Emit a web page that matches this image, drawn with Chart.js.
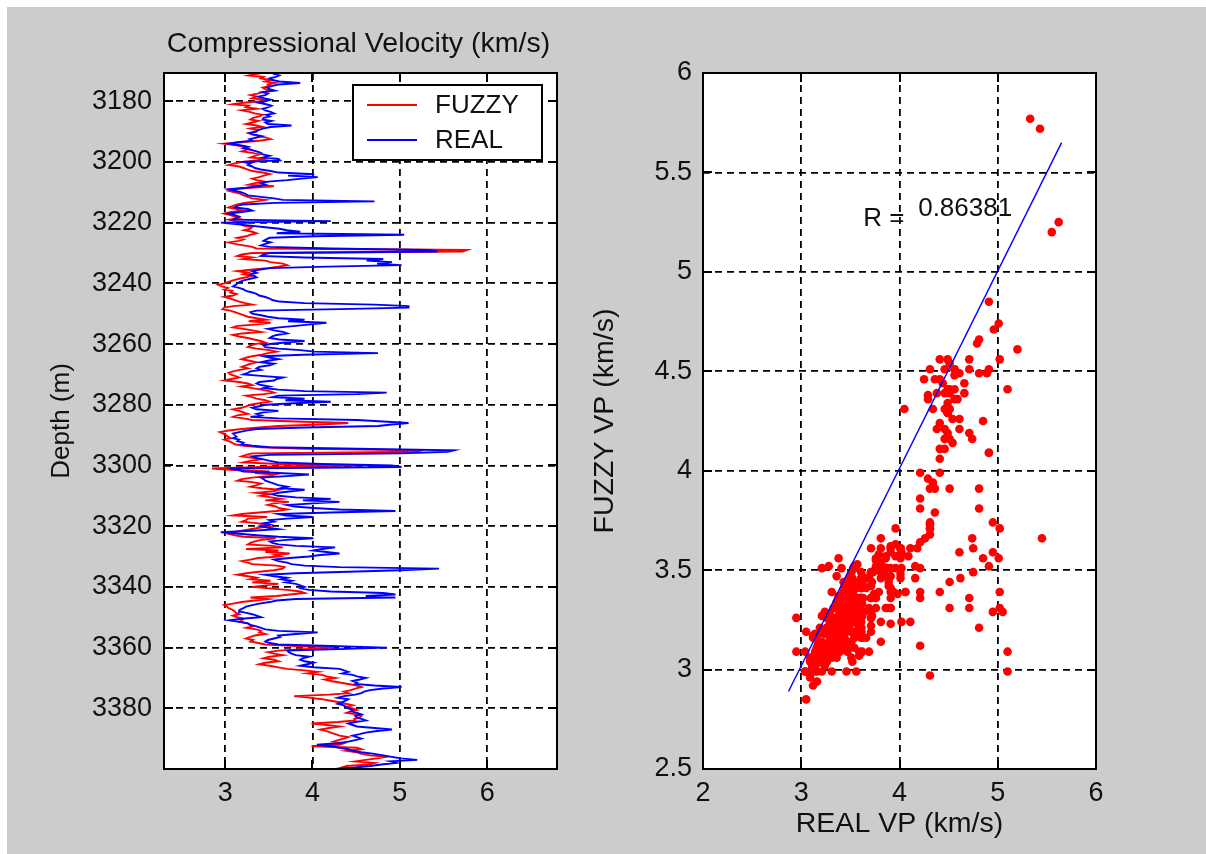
<!DOCTYPE html>
<html><head><meta charset="utf-8">
<script src="https://cdn.jsdelivr.net/npm/chart.js@4.4.0/dist/chart.umd.min.js"></script>
<style>
html,body{margin:0;padding:0;background:#fff;width:1206px;height:854px;overflow:hidden;}
#bg{position:absolute;left:7px;top:7px;width:1199px;height:847px;background:#cccccc;}
#cL{position:absolute;left:0;top:0;}
#cR{position:absolute;left:560px;top:0;}
</style></head><body>
<div id="bg"></div>
<canvas id="cL" width="603" height="854"></canvas>
<canvas id="cR" width="646" height="854"></canvas>
<script>
// ---------------- data ----------------
const depthStart = 3170.5;   // m, first sample
const depthStep = 0.5;       // m between samples
const fuzzyVp = [3.31,
3.36,3.27,3.44,3.41,3.52,3.46,3.57,3.49,3.51,3.43,3.46,3.53,3.44,3.37,3.29,3.36,3.31,3.46,
3.41,3.21,3.09,3.27,3.24,3.36,3.19,3.28,3.34,3.43,3.39,3.32,3.29,3.38,3.31,3.24,3.36,3.43,3.29,3.37,
3.34,3.27,3.31,3.38,3.47,3.52,3.39,3.18,2.99,3.13,3.21,3.27,3.24,3.19,3.31,3.39,3.34,3.29,3.46,3.36,
3.19,3.11,3.04,3.16,3.21,3.26,3.31,3.43,3.51,3.44,3.39,3.31,3.36,3.46,3.34,3.27,3.56,3.29,3.09,3.04,
3.11,3.18,3.21,3.26,3.31,3.46,3.36,3.22,3.14,3.09,3.04,3.13,3.21,3.07,2.99,3.06,3.11,3.16,3.04,3.12,
3.26,3.17,3.21,3.31,3.29,3.22,3.31,3.36,3.29,3.24,3.14,3.21,3.16,3.04,3.11,3.21,3.31,3.36,5.77,5.72,
3.31,3.19,3.14,3.31,3.21,3.46,3.52,3.66,3.71,3.61,3.49,3.29,3.14,3.26,3.21,3.31,3.24,3.16,3.09,3.04,
2.99,2.92,2.96,3.03,2.99,3.08,3.06,3.13,3.09,2.99,3.06,3.11,3.16,3.23,3.31,3.09,2.99,2.97,3.06,3.11,
3.16,3.21,3.26,3.36,3.47,3.27,3.52,3.38,3.14,3.09,3.21,3.31,3.41,3.19,3.09,3.16,3.26,3.33,3.41,3.46,
3.34,3.29,3.26,3.36,3.51,3.59,3.49,3.42,3.31,3.24,3.19,3.28,3.36,3.29,3.24,3.19,3.26,3.17,3.09,3.04,
3.06,3.11,3.16,3.07,2.99,3.16,3.26,3.31,3.19,3.31,3.41,3.51,3.56,3.44,3.24,3.31,3.36,3.46,3.51,3.39,
3.29,3.24,3.19,3.09,3.16,3.21,3.26,3.14,3.09,3.21,3.31,3.81,4.41,4.09,3.61,3.39,3.19,3.04,2.94,2.98,
3.01,3.03,3.06,2.99,3.04,3.08,3.11,3.21,3.41,3.91,5.25,5.2,3.31,3.24,3.19,3.31,3.41,3.29,3.21,3.61,
4.51,3.39,2.85,3.11,3.51,3.34,3.57,3.49,3.31,3.19,3.14,3.31,3.41,3.36,3.29,3.42,3.62,3.55,3.36,3.51,
3.41,3.53,3.64,3.46,3.73,3.56,3.49,3.58,3.61,3.71,3.59,3.39,3.19,3.09,3.48,3.26,3.24,3.19,3.36,3.46,
3.51,3.39,3.29,3.19,3.09,3.04,3.11,3.21,3.58,3.42,3.34,3.29,3.26,3.54,3.66,3.24,3.61,3.46,3.74,3.57,
3.63,3.38,3.29,3.19,3.26,3.31,3.59,3.68,3.66,3.56,3.39,3.24,3.14,3.26,3.36,3.29,3.52,3.31,3.61,3.47,
3.31,3.51,3.71,3.86,3.91,3.74,3.59,3.29,3.49,3.34,3.19,3.09,2.99,3.02,3.04,3.08,3.11,3.12,3.16,3.09,
3.14,3.21,3.19,3.17,3.26,3.28,3.31,3.24,3.36,3.41,3.39,3.46,3.34,3.29,3.24,3.32,3.29,3.38,3.46,3.81,
4.25,3.91,3.61,3.49,3.56,3.66,3.51,3.44,3.56,3.61,3.46,3.39,3.51,3.61,3.71,3.91,4.06,3.94,4.11,4.16,
4.26,4.14,4.21,4.31,4.41,4.51,4.56,4.49,4.44,4.36,4.41,4.19,3.79,3.96,4.11,4.21,4.31,4.38,4.46,4.39,
4.46,4.51,4.44,4.39,4.51,4.56,4.54,4.48,4.49,4.29,3.99,4.16,4.31,4.19,4.09,4.16,4.21,4.26,4.31,4.41,
4.36,4.29,4.24,4.36,4.31,3.99,4.51,4.56,4.39,4.51,4.56,4.66,4.85,4.74,4.61,4.49,4.71,4.64,4.39,4.34,
4.46];
const realVp = [3.52,
3.56,3.62,3.58,3.51,3.54,3.62,3.86,3.61,3.53,3.48,3.51,3.57,3.43,3.49,3.46,3.38,3.44,3.52,
3.46,3.38,3.47,3.53,3.49,3.43,3.46,3.52,3.56,3.47,3.51,3.44,3.43,3.53,3.46,3.49,3.76,3.52,3.43,3.38,
3.36,3.28,3.34,3.42,3.36,3.28,3.31,3.14,3.04,3.17,3.26,3.21,3.29,3.36,3.41,3.43,3.51,3.44,3.61,3.63,
3.21,3.29,3.26,3.31,3.34,3.41,3.52,3.61,4.02,3.72,4.06,3.88,3.71,3.49,3.41,3.46,3.38,3.24,3.04,3.11,
3.19,3.23,3.26,3.41,3.56,3.66,4.71,3.58,3.21,3.14,3.11,3.26,3.31,3.19,3.04,3.11,3.16,3.12,3.09,4.21,
2.95,3.12,3.29,3.46,3.62,3.71,3.86,3.59,5.05,4.02,3.51,3.47,3.44,3.52,3.46,3.41,3.51,4.21,5.33,5.43,
3.51,3.44,3.41,3.91,4.81,4.62,4.91,4.74,5.02,4.18,3.51,3.39,3.31,3.36,3.29,3.33,3.36,3.29,3.21,3.17,
3.14,3.12,3.09,3.16,3.21,3.24,3.31,3.36,3.39,3.46,3.51,3.54,3.62,3.91,4.71,5.1,5.1,4.31,3.36,3.29,
3.31,3.41,3.49,3.61,3.91,3.72,4.16,3.98,3.81,3.62,3.49,3.56,3.66,3.71,3.59,3.54,3.51,3.62,3.91,3.69,
3.51,3.44,3.46,3.61,3.86,4.02,4.75,3.89,3.44,3.52,3.61,3.49,3.41,3.56,3.51,3.39,3.36,3.41,3.29,3.26,
3.21,3.41,3.66,3.59,3.56,3.39,3.36,3.41,3.51,3.44,3.61,3.91,4.85,4.51,3.61,3.54,3.91,3.69,4.21,3.79,
3.46,3.39,3.31,3.36,3.61,3.44,3.36,3.41,3.29,3.61,4.51,4.81,5.1,4.91,4.75,3.91,3.36,3.24,3.16,3.09,
3.11,3.13,3.09,3.16,3.14,3.21,3.19,3.31,3.51,4.51,5.62,5.55,5.02,3.51,3.31,3.36,3.44,3.51,3.61,4.11,
4.91,5.02,3.05,3.16,3.21,3.61,3.96,3.71,3.41,3.44,3.46,3.51,3.56,3.61,3.71,3.64,3.91,3.76,3.61,3.54,
3.61,3.81,4.21,3.89,4.31,4.01,3.71,3.79,4.01,4.31,4.95,4.21,3.61,3.69,4.01,3.71,3.51,3.56,3.44,3.51,
3.41,3.49,3.61,3.31,2.95,3.16,3.36,3.61,4.01,3.71,3.51,3.54,3.61,3.81,4.26,4.11,4.01,4.16,4.31,4.09,
3.96,3.74,3.56,3.61,3.71,3.76,3.91,4.31,5.45,5.01,4.41,3.81,3.46,3.56,3.71,3.64,3.76,3.69,3.81,3.86,
3.91,3.87,3.96,4.21,4.81,4.95,4.61,4.95,3.81,3.59,3.51,3.39,3.31,3.24,3.21,3.17,3.16,3.23,3.31,3.36,
3.41,3.19,3.05,3.16,3.26,3.29,3.36,3.41,3.46,3.61,4.06,3.81,3.61,3.63,3.56,3.49,3.46,3.51,3.61,4.21,
4.85,4.31,3.71,3.73,3.76,3.81,3.96,3.89,3.86,3.91,4.01,3.94,3.86,4.01,4.31,4.36,4.41,4.34,4.46,4.51,
4.61,4.54,4.46,4.51,4.49,4.71,5.02,4.81,4.66,4.59,4.56,4.49,4.36,4.29,4.41,4.38,4.34,4.29,4.36,4.38,
4.41,4.46,4.44,4.51,4.56,4.49,4.51,4.56,4.61,4.49,4.41,4.46,4.51,4.71,4.91,4.74,4.61,4.54,4.46,4.51,
4.56,4.49,4.41,4.29,4.05,4.21,4.31,4.41,4.46,4.56,4.71,4.81,4.91,5.01,5.2,4.89,4.96,4.79,4.66,4.49,
4.25];
const depthTicks = [3180,3200,3220,3240,3260,3280,3300,3320,3340,3360,3380];
const velTicks = [3,4,5,6];
const realTicks = [2,3,4,5,6];
const fuzzyTicks = [2.5,3,3.5,4,4.5,5,5.5,6];
const fitLineReal = [2.87, 5.65];
const fitLineFuzzy = [2.89, 5.65];
const rLabel = 'R =';
const rValue = '0.86381';

// ---------------- look ----------------
const FONT = "'Liberation Sans', Arial, sans-serif";
Chart.defaults.font.family = FONT;
Chart.defaults.font.size = 27;
Chart.defaults.color = '#111';
const gridOpts = {color:'#000', lineWidth:1.8, drawTicks:false};
const borderOpts = {display:false, dash:[7,5]};
const axisTitleFont = {size:28.5};

function fixedTicks(vals){ return s => { s.ticks = vals.map(v => ({value:v})); }; }

function framePlugin(id, extra){
  return {
    id: id,
    beforeDraw(chart){
      const {ctx, chartArea:a} = chart;
      ctx.save(); ctx.fillStyle = '#ffffff';
      ctx.fillRect(a.left, a.top, a.right - a.left, a.bottom - a.top);
      ctx.restore();
    },
    afterDraw(chart){
      const {ctx, chartArea:a, scales} = chart;
      ctx.save();
      ctx.strokeStyle = '#000'; ctx.lineWidth = 2; ctx.setLineDash([]);
      const tl = 9;
      ctx.beginPath();
      scales.x.ticks.forEach(t => { const p = Math.round(scales.x.getPixelForValue(t.value));
        ctx.moveTo(p, a.bottom); ctx.lineTo(p, a.bottom - tl); ctx.moveTo(p, a.top); ctx.lineTo(p, a.top + tl); });
      scales.y.ticks.forEach(t => { const p = Math.round(scales.y.getPixelForValue(t.value));
        ctx.moveTo(a.left, p); ctx.lineTo(a.left + tl, p); ctx.moveTo(a.right, p); ctx.lineTo(a.right - tl, p); });
      ctx.stroke();
      ctx.strokeRect(a.left, a.top, a.right - a.left, a.bottom - a.top);
      if (extra) extra(chart, ctx, a, scales);
      ctx.restore();
    }
  };
}

// ---------------- left: log vs depth ----------------
const logPoints = arr => arr.map((v, i) => ({x: v, y: depthStart + i * depthStep}));

new Chart(document.getElementById('cL'), {
  type: 'scatter',
  data: { datasets: [
    {label:'FUZZY', data: logPoints(fuzzyVp), showLine:true, borderColor:'#ff0000', borderWidth:1.9, pointRadius:0, tension:0, order:2},
    {label:'REAL',  data: logPoints(realVp),  showLine:true, borderColor:'#0000ff', borderWidth:1.9, pointRadius:0, tension:0, order:1}
  ]},
  options: {
    responsive:false, animation:false, events:[],
    layout:{padding:{top:73, right:46, bottom:0, left:0}},
    plugins:{legend:{display:false}, tooltip:{enabled:false}},
    scales:{
      x:{type:'linear', min:2.3, max:6.8, grid:gridOpts, border:borderOpts,
         afterBuildTicks: fixedTicks(velTicks), afterFit: s => { s.height = 85; },
         ticks:{padding:8, callback: v => String(v)}},
      y:{type:'linear', reverse:true, min:3170.7, max:3400, grid:gridOpts, border:borderOpts,
         afterBuildTicks: fixedTicks(depthTicks), afterFit: s => { s.width = 164; },
         ticks:{padding:12, callback: v => String(v)},
         title:{display:true, text:'Depth (m)', color:'#111', font:{size:26}, padding:{top:46, bottom:0}}}
    }
  },
  plugins:[framePlugin('frameL', (chart, ctx, a) => {
    // title
    ctx.fillStyle = '#111'; ctx.font = '28.5px ' + FONT;
    ctx.textAlign = 'center'; ctx.textBaseline = 'alphabetic';
    ctx.fillText('Compressional Velocity (km/s)', (a.left + a.right) / 2 - 2, 52);
    // legend box
    const bx = 353, by = 85, bw = 189, bh = 75;
    ctx.fillStyle = '#fff'; ctx.fillRect(bx, by, bw, bh);
    ctx.strokeStyle = '#000'; ctx.lineWidth = 2; ctx.strokeRect(bx, by, bw, bh);
    const rows = [105, 140];
    ctx.font = '26px ' + FONT;
    chart.data.datasets.forEach((ds, i) => {
      ctx.strokeStyle = ds.borderColor; ctx.lineWidth = 1.8;
      ctx.beginPath(); ctx.moveTo(367, rows[i]); ctx.lineTo(417, rows[i]); ctx.stroke();
      ctx.fillStyle = '#111'; ctx.textAlign = 'left'; ctx.textBaseline = 'middle';
      ctx.fillText(ds.label, 435, rows[i] + 1);
    });
  })]
});

// ---------------- right: crossplot ----------------
const crossPoints = realVp.map((r, i) => ({x: r, y: fuzzyVp[i]}));
const fitPoints = fitLineReal.map((r, i) => ({x: r, y: fitLineFuzzy[i]}));

new Chart(document.getElementById('cR'), {
  type: 'scatter',
  data: { datasets: [
    {label:'points', data: crossPoints, backgroundColor:'#ff0000', borderWidth:0, pointRadius:4.3, order:2},
    {label:'fit', data: fitPoints, showLine:true, borderColor:'#0000ff', borderWidth:1.4, pointRadius:0, order:1}
  ]},
  options: {
    responsive:false, animation:false, events:[],
    layout:{padding:{top:73, right:110, bottom:0, left:0}},
    plugins:{legend:{display:false}, tooltip:{enabled:false}},
    scales:{
      x:{type:'linear', min:2, max:6, grid:gridOpts, border:borderOpts,
         afterBuildTicks: fixedTicks(realTicks), afterFit: s => { s.height = 85; },
         ticks:{padding:8, callback: v => String(v)},
         title:{display:true, text:'REAL VP (km/s)', color:'#111', font:axisTitleFont, padding:{top:0, bottom:13}}},
      y:{type:'linear', min:2.5, max:6, grid:gridOpts, border:borderOpts,
         afterBuildTicks: fixedTicks(fuzzyTicks), afterFit: s => { s.width = 143; },
         ticks:{padding:11, callback: v => String(v)},
         title:{display:true, text:'FUZZY VP (km/s)', color:'#111', font:axisTitleFont, padding:{top:28, bottom:0}}}
    }
  },
  plugins:[framePlugin('frameR', (chart, ctx, a, scales) => {
    ctx.fillStyle = '#111'; ctx.font = '26px ' + FONT;
    ctx.textAlign = 'left'; ctx.textBaseline = 'alphabetic';
    ctx.fillText(rLabel, scales.x.getPixelForValue(3.63), scales.y.getPixelForValue(5.23));
    ctx.fillText(rValue, scales.x.getPixelForValue(4.19), scales.y.getPixelForValue(5.28));
  })]
});
</script>
</body></html>
